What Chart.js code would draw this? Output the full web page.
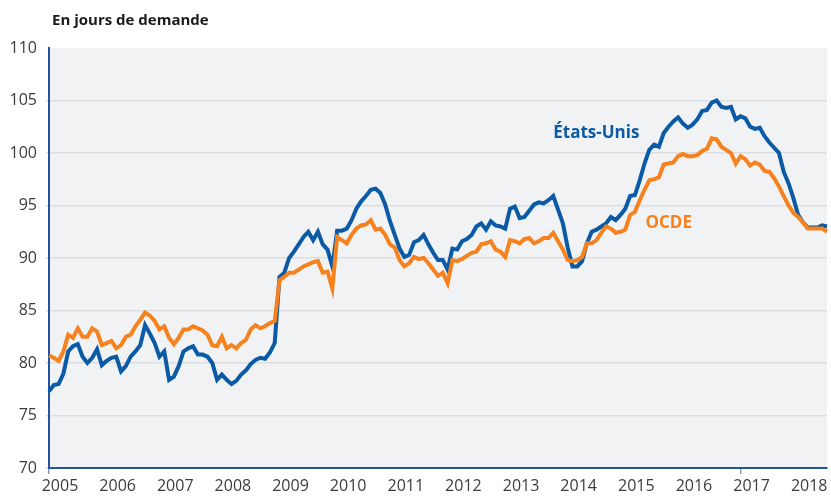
<!DOCTYPE html>
<html>
<head>
<meta charset="utf-8">
<script src="https://cdn.jsdelivr.net/npm/chart.js@4"></script>
<style>
  body { margin: 0; background: #fff; }
  canvas { display: block; }
</style>
</head>
<body>
<canvas id="stocksChart" width="831" height="496"></canvas>
<script>
// monthly, Jan 2005 - Jul 2018
const firstYear = 2005;
const tickYears = [2005, 2006, 2007, 2008, 2009, 2010, 2011, 2012, 2013, 2014, 2015, 2016, 2017, 2018];

const usDays = [
  77.3, 77.9, 78.0, 79.0, 81.1, 81.6, 81.8, 80.6, 80.0, 80.5, 81.3, 79.8,
  80.2, 80.5, 80.6, 79.2, 79.7, 80.6, 81.1, 81.7, 83.6, 82.8, 81.9, 80.6,
  81.1, 78.4, 78.7, 79.7, 81.1, 81.4, 81.6, 80.8, 80.8, 80.6, 80.0, 78.4,
  78.9, 78.4, 78.0, 78.3, 78.9, 79.3, 79.9, 80.3, 80.5, 80.4, 81.0, 81.9,
  88.2, 88.6, 90.0, 90.6, 91.3, 92.0, 92.5, 91.7, 92.5, 91.3, 90.8, 89.2,
  92.6, 92.6, 92.8, 93.6, 94.7, 95.4, 95.9, 96.5, 96.6, 96.2, 95.1, 93.5,
  92.2, 90.9, 90.1, 90.3, 91.5, 91.7, 92.2, 91.3, 90.5, 89.8, 89.8, 88.9,
  90.9, 90.8, 91.6, 91.8, 92.2, 93.0, 93.3, 92.7, 93.5, 93.1, 93.0, 92.8,
  94.7, 94.9, 93.8, 93.9, 94.5, 95.1, 95.3, 95.2, 95.5, 95.9, 94.6, 93.3,
  91.0, 89.2, 89.2, 89.7, 91.4, 92.5, 92.7, 93.0, 93.3, 93.9, 93.6, 94.1,
  94.7, 95.9, 96.0, 97.4, 99.0, 100.3, 100.8, 100.6, 101.9, 102.5, 103.0, 103.4,
  102.8, 102.4, 102.7, 103.2, 104.0, 104.1, 104.8, 105.0, 104.4, 104.3, 104.4, 103.2,
  103.5, 103.3, 102.5, 102.3, 102.4, 101.6, 101.0, 100.5, 100.0, 98.2, 97.1, 95.7,
  94.1, 93.4, 92.9, 92.9, 92.9, 93.1, 93.0
];

const oecdDays = [
  80.7, 80.5, 80.2, 81.1, 82.7, 82.4, 83.3, 82.5, 82.5, 83.3, 83.0, 81.7,
  81.9, 82.1, 81.4, 81.7, 82.5, 82.7, 83.5, 84.1, 84.8, 84.5, 84.0, 83.2,
  83.5, 82.4, 81.8, 82.4, 83.2, 83.2, 83.5, 83.3, 83.1, 82.7, 81.7, 81.6,
  82.5, 81.4, 81.7, 81.4, 81.9, 82.2, 83.2, 83.6, 83.3, 83.5, 83.8, 84.0,
  87.9, 88.2, 88.6, 88.6, 88.9, 89.2, 89.4, 89.6, 89.7, 88.6, 88.7, 87.1,
  92.0, 91.7, 91.4, 92.2, 92.8, 93.1, 93.2, 93.6, 92.7, 92.8, 92.2, 91.3,
  91.0, 89.8, 89.2, 89.5, 90.1, 89.9, 90.0, 89.5, 88.9, 88.3, 88.6, 87.6,
  89.8, 89.7, 89.9, 90.2, 90.5, 90.6, 91.3, 91.4, 91.6, 90.8, 90.6, 90.1,
  91.7, 91.6, 91.4, 91.8, 91.9, 91.4, 91.6, 91.9, 91.9, 92.4, 91.6, 90.8,
  89.8, 89.7, 89.8, 90.1, 91.4, 91.4, 91.7, 92.4, 93.0, 92.8, 92.4, 92.5,
  92.7, 94.1, 94.4, 95.5, 96.5, 97.4, 97.5, 97.7, 98.9, 99.0, 99.1, 99.7,
  99.9, 99.7, 99.7, 99.8, 100.2, 100.4, 101.4, 101.3, 100.6, 100.3, 100.0, 99.0,
  99.7, 99.4, 98.8, 99.1, 98.9, 98.3, 98.2, 97.6, 96.8, 95.9, 95.0, 94.3,
  93.9, 93.4, 92.8, 92.8, 92.8, 92.8, 92.5
];

const months = usDays.map((v, i) => `${firstYear + Math.floor(i / 12)}-${String(i % 12 + 1).padStart(2, "0")}`);

const BLUE = "#0b5aa6";
const ORANGE = "#f5821f";
const AXIS = "#2453a2";
const FONT = "'Open Sans', 'Noto Sans', sans-serif";

function yearOf(index) {
  const label = months[index];
  if (!label || !label.endsWith("-01")) return null;
  const y = parseInt(label.slice(0, 4));
  return tickYears.includes(y) ? String(y) : null;
}

// plot background + text annotations
const decor = {
  id: "decor",
  beforeDraw(chart) {
    const { ctx, chartArea: a } = chart;
    ctx.save();
    ctx.fillStyle = "#ffffff";
    ctx.fillRect(0, 0, chart.width, chart.height);
    ctx.fillStyle = "#f1f2f4";
    ctx.fillRect(a.left, a.top, a.right - a.left, a.bottom - a.top);
    ctx.restore();
  },
  afterDatasetsDraw(chart) {
    const { ctx } = chart;
    const x = chart.scales.x, y = chart.scales.y;
    ctx.save();
    ctx.textBaseline = "alphabetic";
    ctx.textAlign = "left";
    ctx.fillStyle = "#1a1a1a";
    ctx.font = `bold 15px ${FONT}`;
    ctx.fillText("En jours de demande", 52, 25);

    ctx.font = `bold 17px ${FONT}`;
    ctx.fillStyle = BLUE;
    ctx.fillText("États-Unis", x.getPixelForValue(105), y.getPixelForValue(101.45));
    ctx.fillStyle = ORANGE;
    ctx.fillText("OCDE", x.getPixelForValue(124.2), y.getPixelForValue(92.85));
    ctx.restore();
  }
};

new Chart(document.getElementById("stocksChart").getContext("2d"), {
  type: "line",
  data: {
    labels: months,
    datasets: [
      { label: "États-Unis", data: usDays, borderColor: BLUE, borderWidth: 4, pointRadius: 0, tension: 0, order: 2 },
      { label: "OCDE", data: oecdDays, borderColor: ORANGE, borderWidth: 4, pointRadius: 0, tension: 0, order: 1 }
    ]
  },
  options: {
    responsive: false,
    animation: false,
    layout: { padding: { top: 48, right: 4, bottom: 0, left: 0 } },
    plugins: { legend: { display: false }, tooltip: { enabled: false }, title: { display: false } },
    scales: {
      x: {
        type: "category",
        offset: false,
        afterFit: s => { s.height = 28; },
        border: { display: true, color: AXIS, width: 2 },
        grid: {
          drawOnChartArea: false,
          drawTicks: true,
          tickLength: 6,
          lineWidth: 1.5,
          color: c => (yearOf(c.index) ? "#999999" : "rgba(0,0,0,0)")
        },
        ticks: {
          autoSkip: false,
          maxRotation: 0,
          minRotation: 0,
          padding: 3,
          labelOffset: 11,
          color: "#3c3c3c",
          font: { family: FONT, size: 16 },
          callback: (value, index) => yearOf(index)
        }
      },
      y: {
        min: 70,
        max: 110,
        afterFit: s => { s.width = 49; },
        border: { display: true, color: AXIS, width: 2 },
        grid: {
          tickLength: 3,
          lineWidth: 1.5,
          color: c => (c.tick && c.tick.value === 110 ? "rgba(0,0,0,0)" : "#dcdde1")
        },
        ticks: {
          stepSize: 5,
          padding: 9,
          color: "#3c3c3c",
          font: { family: FONT, size: 16 }
        }
      }
    }
  },
  plugins: [decor]
});
</script>
</body>
</html>
